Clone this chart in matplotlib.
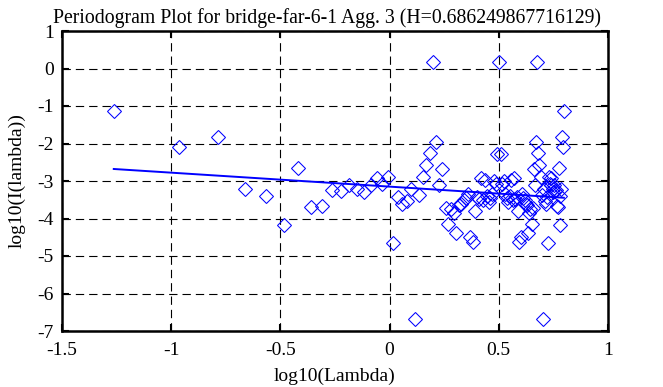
import numpy as np
import matplotlib
matplotlib.use("Agg")
import matplotlib.pyplot as plt

# log10(lambda) for each periodogram frequency
log_lambda = [
    -1.263, -0.962, -0.786, -0.661, -0.564, -0.485, -0.418, -0.360, -0.309, -0.263,
    -0.222, -0.184, -0.149, -0.117, -0.087, -0.059, -0.033, -0.008, 0.016, 0.038,
    0.059, 0.079, 0.099, 0.117, 0.135, 0.152, 0.168, 0.184, 0.199, 0.214,
    0.228, 0.242, 0.256, 0.268, 0.281, 0.293, 0.305, 0.317, 0.328, 0.339,
    0.350, 0.360, 0.370, 0.380, 0.390, 0.400, 0.409, 0.418, 0.427, 0.436,
    0.445, 0.453, 0.461, 0.469, 0.477, 0.485, 0.493, 0.500, 0.508, 0.515,
    0.522, 0.529, 0.536, 0.543, 0.550, 0.557, 0.563, 0.570, 0.576, 0.582,
    0.588, 0.594, 0.600, 0.606, 0.612, 0.618, 0.623, 0.629, 0.635, 0.640,
    0.645, 0.651, 0.656, 0.661, 0.666, 0.671, 0.677, 0.681, 0.686, 0.691,
    0.696, 0.701, 0.705, 0.710, 0.715, 0.719, 0.724, 0.728, 0.733, 0.737,
    0.741, 0.746, 0.750, 0.754, 0.758, 0.762, 0.766, 0.770, 0.774, 0.778,
    0.782, 0.786, 0.790, 0.794, 0.798,
]

# log10(I(lambda))
log_I = [
    -1.14, -2.08, -1.83, -3.20, -3.40, -4.16, -2.65, -3.69, -3.67, -3.24,
    -3.27, -3.11, -3.21, -3.30, -3.11, -2.93, -3.09, -2.88, -4.65, -3.42,
    -3.62, -3.53, -3.21, -6.69, -3.37, -2.88, -2.57, -2.24, 0.17, -1.95,
    -3.11, -2.69, -3.72, -4.15, -3.75, -3.85, -4.39, -3.65, -3.60, -3.50,
    -3.45, -3.35, -4.50, -4.62, -3.80, -3.42, -3.48, -2.92, -3.50, -2.97,
    -3.40, -3.55, -3.45, -3.35, -3.00, -3.08, -2.27, 0.17,
    -2.27, -3.08, -3.00, -3.35, -3.45, -3.55, -3.40, -2.97, -3.50, -2.92,
    -3.48, -3.42, -3.80, -4.62, -4.50, -3.35, -3.45, -3.50, -3.60, -3.65,
    -4.39, -3.85, -3.75, -4.15, -3.72, -2.69, -3.11, -1.95, 0.17, -2.24,
    -2.57, -2.88, -3.37, -6.69, -3.21, -3.53, -3.62, -3.42, -4.65, -2.88,
    -3.09, -2.93, -3.11, -3.30, -3.21, -3.11, -3.27, -3.24, -3.67, -3.69,
    -2.65, -4.16, -3.40, -3.20, -1.83, -2.08, -1.14,
]

H = 0.686249867716129
fit_slope = 1 - 2 * H
fit_intercept = -3.15

x = np.array(log_lambda)
y = np.array(log_I)

plt.rcParams['font.family'] = ['Liberation Serif', 'DejaVu Serif']

fig = plt.figure(figsize=(6.63, 3.87), dpi=100)
ax = fig.add_axes([62 / 663, 1 - 331 / 387, 546 / 663, 300 / 387])

ax.plot(x, y, linestyle='none', marker='D', ms=7.4, mfc='none',
        mec='#0000ff', mew=0.75)
xf = np.array([x.min(), x.max()])
ax.plot(xf, fit_intercept + fit_slope * xf, color='#0000ff', lw=1.4)

ax.set_xlim(-1.5, 1)
ax.set_ylim(-7, 1)
ax.set_xticks([-1.5, -1, -0.5, 0, 0.5, 1])
ax.set_xticklabels(['-1.5', '-1', '-0.5', '0', '0.5', '1'])
ax.set_yticks(range(-7, 2))
ax.set_yticklabels([str(v) for v in range(-7, 2)])
ax.grid(True, color='black', linestyle=(0, (7.5, 4.5)), linewidth=0.8)
ax.tick_params(direction='in', length=5, width=1.5, top=True, right=True,
               labelsize=14, colors='black')
ax.tick_params(axis='x', pad=8)
ax.tick_params(axis='y', pad=6)
for s in ax.spines.values():
    s.set_linewidth(1.8)

ax.set_title('Periodogram Plot for bridge-far-6-1 Agg. 3 (H=0.686249867716129)',
             fontsize=14.2, pad=6, x=0.485)
ax.set_xlabel('log10(Lambda)', fontsize=14, labelpad=6)
ax.set_ylabel('log10(I(lambda))', fontsize=14, labelpad=8)

fig.savefig('out.png', dpi=100)
